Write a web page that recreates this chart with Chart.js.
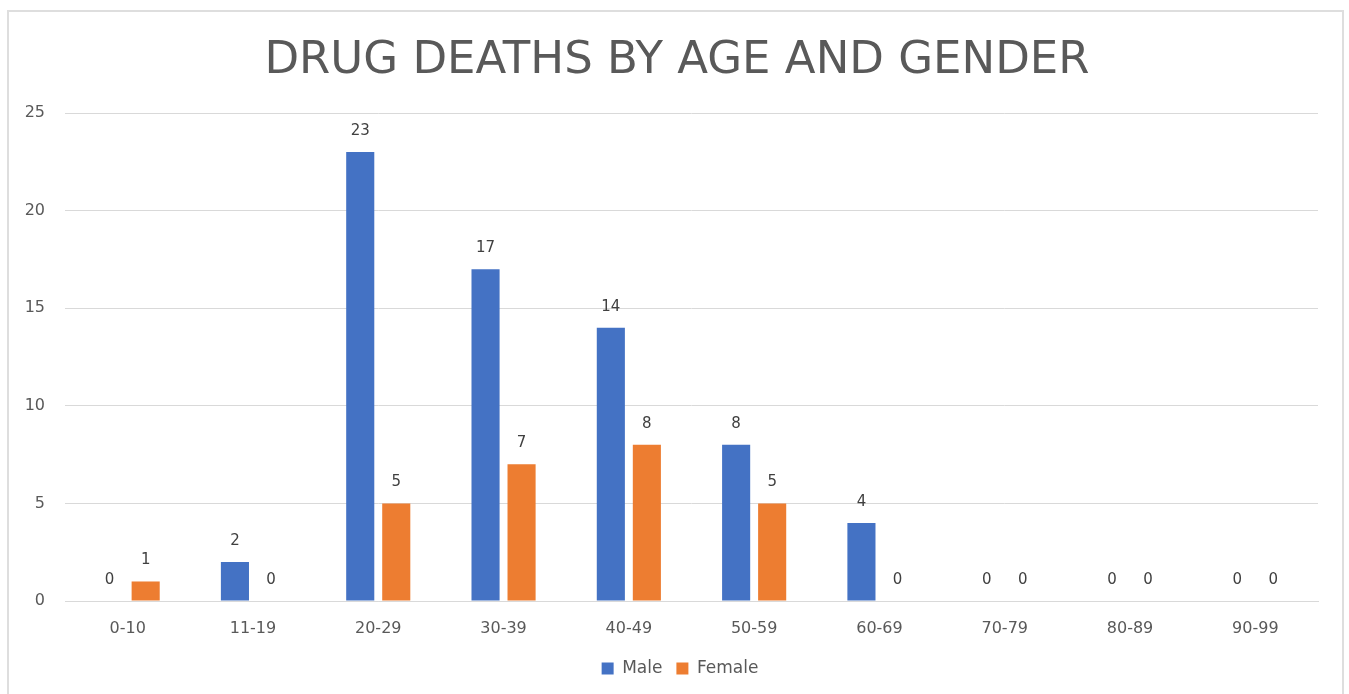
<!DOCTYPE html>
<html>
<head>
<meta charset="utf-8">
<script src="https://cdn.jsdelivr.net/npm/chart.js@4.4.1/dist/chart.umd.min.js"></script>
<style>
  html, body { margin: 0; padding: 0; background: #fff; overflow: hidden; }
  .frame { position: absolute; left: 7px; top: 10px; width: 1333px; height: 700px; border: 2px solid #dedede; }
  .wrap { position: absolute; left: 0; top: 0; width: 1349px; height: 694px; }
</style>
</head>
<body>
<div class="frame"></div>
<div class="wrap"><canvas id="chart"></canvas></div>
<script>
const ageGroups = ['0-10', '11-19', '20-29', '30-39', '40-49', '50-59', '60-69', '70-79', '80-89', '90-99'];
const maleDeaths = [0, 2, 23, 17, 14, 8, 4, 0, 0, 0];
const femaleDeaths = [1, 0, 5, 7, 8, 5, 0, 0, 0, 0];
const yTicks = [0, 5, 10, 15, 20, 25];

const textColor = '#595959';
const fontFamily = '"DejaVu Sans", "Open Sans", sans-serif';

// draws the number above each bar, like excel data labels
const valueLabels = {
    id: 'valueLabels',
    afterDatasetsDraw(chart) {
        const ctx = chart.ctx;
        ctx.save();
        ctx.font = '15px ' + fontFamily;
        ctx.fillStyle = '#404040';
        ctx.textAlign = 'center';
        ctx.textBaseline = 'middle';
        chart.data.datasets.forEach((ds, i) => {
            chart.getDatasetMeta(i).data.forEach((bar, j) => {
                ctx.fillText(String(ds.data[j]), bar.x, bar.y - 21);
            });
        });
        ctx.restore();
    }
};

// excel centres title and legend on the whole frame, not on the left of it
const centreBlocks = {
    id: 'centreBlocks',
    afterLayout(chart) {
        if (chart.legend) chart.legend.left += 42;
        if (chart.titleBlock) chart.titleBlock.left += 36;
    }
};

const ctx = document.getElementById('chart').getContext('2d');

new Chart(ctx, {
    type: 'bar',
    data: {
        labels: ageGroups,
        datasets: [{
            label: 'Male',
            data: maleDeaths,
            backgroundColor: '#4472C4',
            borderWidth: 0
        }, {
            label: 'Female',
            data: femaleDeaths,
            backgroundColor: '#ED7D31',
            borderWidth: 0
        }]
    },
    options: {
        responsive: true,
        maintainAspectRatio: false,
        animation: false,
        datasets: {
            bar: {
                categoryPercentage: 0.575,
                barPercentage: 0.78
            }
        },
        layout: {
            padding: { left: 0, right: 31, top: 0, bottom: 7 }
        },
        plugins: {
            title: {
                display: true,
                text: 'DRUG DEATHS BY AGE AND GENDER',
                color: textColor,
                font: { family: fontFamily, size: 45, weight: 'normal', lineHeight: 1.2 },
                padding: { top: 34, bottom: 25 }
            },
            legend: {
                display: true,
                position: 'bottom',
                labels: {
                    boxWidth: 12,
                    boxHeight: 12,
                    padding: 14,
                    color: textColor,
                    font: { family: fontFamily, size: 17 }
                }
            },
            tooltip: { enabled: false }
        },
        scales: {
            x: {
                afterFit(scale) { scale.height = 45; },
                grid: { display: false, drawTicks: false },
                border: { display: true, color: '#d9d9d9', width: 1 },
                ticks: {
                    color: textColor,
                    padding: 18,
                    font: { family: fontFamily, size: 16 }
                }
            },
            y: {
                min: 0,
                max: 25,
                afterFit(scale) { scale.width = 65; },
                afterBuildTicks(scale) { scale.ticks = yTicks.map(v => ({ value: v })); },
                grid: { color: '#d9d9d9', drawTicks: false },
                border: { display: false },
                ticks: {
                    color: textColor,
                    padding: 20,
                    font: { family: fontFamily, size: 16 }
                }
            }
        }
    },
    plugins: [valueLabels, centreBlocks]
});
</script>
</body>
</html>
